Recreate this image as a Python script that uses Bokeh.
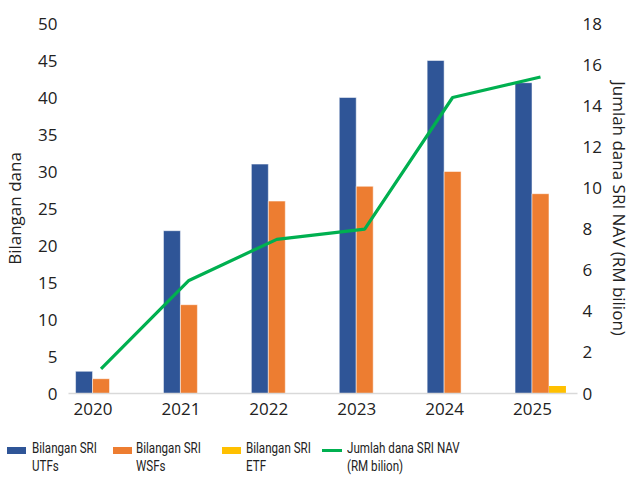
import numpy as np
from bokeh.plotting import figure
from bokeh.layouts import column
from bokeh.models import Range1d, LinearAxis, FixedTicker, ColumnDataSource, Div
from bokeh.embed import file_html
from bokeh.resources import INLINE

# ---- data ----
years = [2020, 2021, 2022, 2023, 2024, 2025]
year_labels = ["2020", "2021", "2022", "2023", "2024", "2025"]
utf_counts = [3, 22, 31, 40, 45, 42]
wsf_counts = [2, 12, 26, 28, 30, 27]
etf_counts = [0, 0, 0, 0, 0, 1]
nav_billion = [1.2, 5.5, 7.5, 8.0, 14.4, 15.4]
left_ticks = list(range(0, 51, 5))
right_ticks = list(range(0, 19, 2))

legend_line1 = ["Bilangan SRI", "Bilangan SRI", "Bilangan SRI", "Jumlah dana SRI NAV"]
legend_line2 = ["UTFs", "WSFs", "ETF", "(RM bilion)"]

BLUE = "#2F5597"
ORANGE = "#ED7D31"
YELLOW = "#FFC000"
GREEN = "#00B050"
TXT = "#222222"
FONT = "Open Sans"
LFONT = "Roboto, sans-serif"

bar_w = 0.193
off_utf, off_wsf, off_etf = -0.102, 0.091, 0.284

yrs = np.array(years, dtype=float)
src = ColumnDataSource(dict(
    x_utf=yrs + off_utf, x_wsf=yrs + off_wsf, x_etf=yrs + off_etf, x_mid=yrs + off_wsf,
    utf=utf_counts, wsf=wsf_counts, etf=etf_counts, nav=nav_billion,
))

p = figure(width=634, height=430, output_backend="svg", toolbar_location=None,
           x_range=Range1d(2019.721, 2025.512), y_range=Range1d(0, 50),
           min_border_left=68, min_border_right=57, min_border_top=23,
           min_border_bottom=37)
p.extra_y_ranges = {"nav": Range1d(0, 18)}

p.xgrid.visible = False
p.ygrid.visible = False
p.outline_line_color = None
p.background_fill_color = "white"
p.border_fill_color = "white"


def style_axis(ax, standoff):
    ax.major_tick_line_color = None
    ax.minor_tick_line_color = None
    ax.major_tick_out = 0
    ax.major_tick_in = 0
    ax.minor_tick_out = 0
    ax.major_label_standoff = standoff
    ax.major_label_text_font = FONT
    ax.major_label_text_font_size = "17px"
    ax.major_label_text_color = TXT
    ax.axis_label_text_font = FONT
    ax.axis_label_text_font_size = "17px"
    ax.axis_label_text_font_style = "normal"
    ax.axis_label_text_color = TXT


xa = p.xaxis[0]
xa.ticker = FixedTicker(ticks=years)
xa.major_label_overrides = {y: l for y, l in zip(years, year_labels)}
xa.axis_line_color = "#D9D9D9"
xa.axis_line_width = 1.5
style_axis(xa, 9)

ya = p.yaxis[0]
ya.ticker = FixedTicker(ticks=left_ticks)
ya.axis_line_color = None
style_axis(ya, 11)
ya.axis_label = "Bilangan dana"
ya.axis_label_standoff = 9

ra = LinearAxis(y_range_name="nav", ticker=FixedTicker(ticks=right_ticks))
ra.axis_line_color = None
style_axis(ra, 5)
ra.axis_label = "Jumlah dana SRI NAV (RM bilion)"
ra.axis_label_standoff = 3
p.add_layout(ra, "right")

# bars and line
p.vbar(x="x_utf", top="utf", width=bar_w, source=src, fill_color=BLUE,
       line_color="white", line_alpha=0.5, line_width=1)
p.vbar(x="x_wsf", top="wsf", width=bar_w, source=src, fill_color=ORANGE,
       line_color="white", line_alpha=0.5, line_width=1)
p.vbar(x="x_etf", top="etf", width=bar_w, source=src, fill_color=YELLOW,
       line_color=None)
p.line(x="x_mid", y="nav", source=src, y_range_name="nav",
       line_color=GREEN, line_width=3.2)

# ---- legend strip (HTML) ----
sw_left = [7, 113, 222, 322]
txt_left = [32, 136, 246, 347]
kinds = ["box", "box", "box", "line"]
colors = [BLUE, ORANGE, YELLOW, GREEN]
parts = []
for sx, tx, kind, c, l1, l2 in zip(sw_left, txt_left, kinds, colors,
                                    legend_line1, legend_line2):
    if kind == "box":
        parts.append(f'<span style="position:absolute;left:{sx}px;top:17px;width:19px;'
                     f'height:7px;background:{c};"></span>')
    else:
        parts.append(f'<span style="position:absolute;left:{sx}px;top:19px;width:20px;'
                     f'height:3px;background:{c};"></span>')
    parts.append(f'<span style="position:absolute;left:{tx}px;top:10px;line-height:18px;'
                 f'white-space:nowrap;transform:scaleX(0.8);transform-origin:left top;">'
                 f'{l1}<br>{l2}</span>')
html = (f'<div style="position:relative;width:634px;height:48px;overflow:hidden;'
        f'font-family:{LFONT};font-size:14.5px;color:{TXT};">' + "".join(parts) + "</div>")
leg = Div(text=html, width=634, height=48, margin=0)

open("out.html", "w").write(file_html(column(p, leg, spacing=0), INLINE))
